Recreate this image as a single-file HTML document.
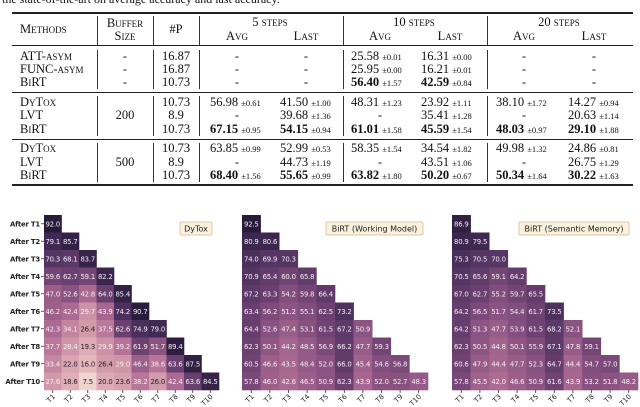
<!DOCTYPE html>
<html><head><meta charset="utf-8">
<style>
html,body{margin:0;padding:0;background:#fff;}
body{width:640px;height:407px;position:relative;overflow:hidden;font-family:"Liberation Serif",serif;color:#111;}
.t{position:absolute;font-size:12.5px;white-space:nowrap;line-height:13px;}
.sc{font-variant:small-caps;}
.c{transform:translateX(-50%);}
.r{transform:translateX(-100%);}
.pm{font-size:8.5px;}
.hl{position:absolute;left:12px;width:621px;background:#222;}
.vl{position:absolute;width:1px;background:#333;}
</style></head>
<body>
<div class="t" style="left:2px;top:-7px;font-size:12px">the state-of-the-art on average accuracy and last accuracy.</div>
<div id="table"></div>
<svg id="hm" width="640" height="407" style="position:absolute;left:0;top:0"></svg>
<script>
// ---------- table ----------
const tbl=document.getElementById('table');
function add(html,cls,x,y,name){const d=document.createElement('div');d.className='t '+cls;d.style.left=x+'px';d.style.top=y+'px';d.innerHTML=html;


tbl.appendChild(d);}
function line(cls,x,y,w,h,name){const d=document.createElement('div');d.className=cls;d.style.left=x+'px';d.style.top=y+'px';if(w)d.style.width=w+'px';d.style.height=h+'px';


tbl.appendChild(d);}
line('hl',12,12,621,2,'table-top-rule');
line('hl',12,45,621,1,'header-rule');
line('hl',12,92,621,1,'group-rule');
line('hl',12,139,621,1,'group-rule');
line('hl',12,184,621,2,'table-bottom-rule');
[97,153,199,343,487].forEach(x=>{
 [[16,45],[50,89],[96,136],[143,182]].forEach(([a,b])=>line('vl',x,a,0,b-a,'column-rule'));
});
add('Methods','sc',20,23,'header-methods');
add('Buffer','sc c',125,17,'header-buffer');
add('Size','sc c',125,30,'header-size');
add('#P','c',176,23,'header-params');
add('5 steps','sc c',270,16,'header-5-steps');
add('Avg','sc c',237,30,'header-avg');
add('Last','sc c',306,30,'header-last');
add('10 steps','sc c',414,16,'header-10-steps');
add('Avg','sc c',380,30,'header-avg');
add('Last','sc c',450,30,'header-last');
add('20 steps','sc c',559,16,'header-20-steps');
add('Avg','sc c',524,30,'header-avg');
add('Last','sc c',594,30,'header-last');
const rows=[
 ['ATT-<span class="sc">asym</span>','-','16.87',['-','-','25.58|0.01','16.31|0.00','-','-'],50],
 ['FUNC-<span class="sc">asym</span>','-','16.87',['-','-','25.95|0.00','16.21|0.01','-','-'],63],
 ['B<span class="sc">i</span>RT','-','10.73',['-','-','*56.40|1.57','*42.59|0.84','-','-'],76],
 ['D<span class="sc">y</span>T<span class="sc">ox</span>','','10.73',['56.98|0.61','41.50|1.00','48.31|1.23','23.92|1.11','38.10|1.72','14.27|0.94'],96],
 ['LVT','200','8.9',['-','39.68|1.36','-','35.41|1.28','-','20.63|1.14'],109],
 ['B<span class="sc">i</span>RT','','10.73',['*67.15|0.95','*54.15|0.94','*61.01|1.58','*45.59|1.54','*48.03|0.97','*29.10|1.88'],123],
 ['D<span class="sc">y</span>T<span class="sc">ox</span>','','10.73',['63.85|0.99','52.99|0.53','58.35|1.54','34.54|1.82','49.98|1.32','24.86|0.81'],142],
 ['LVT','500','8.9',['-','44.73|1.19','-','43.51|1.06','-','26.75|1.29'],156],
 ['B<span class="sc">i</span>RT','','10.73',['*68.40|1.56','*55.65|0.99','*63.82|1.80','*50.20|0.67','*50.34|1.64','*30.22|1.63'],169]
];
const valX=[210,280,351,421,496,568], dashX=[237,306,380,450,524,594];
rows.forEach(r=>{
 const y=r[4];
 add(r[0],'',20,y,'method-name');
 if(r[1])add(r[1],'c',125,y,'buffer-size');
 add(r[2],'c',176,y,'param-count');
 r[3].forEach((v,i)=>{
  if(v==='-'){add('-','c',dashX[i],y,'empty-cell');return;}
  let b=v[0]==='*';if(b)v=v.slice(1);
  const [m,s]=v.split('|');
  add((b?'<b>'+m+'</b>':m)+' <span class="pm">±'+s+'</span>','',valX[i],y,'accuracy-value');
 });
});
// ---------- heatmaps ----------
const rowLabels=['After T1','After T2','After T3','After T4','After T5','After T6','After T7','After T8','After T9','After T10'];
const colLabels=['T1','T2','T3','T4','T5','T6','T7','T8','T9','T10'];
const dytox=[[92.0],[79.1,85.7],[70.3,68.1,83.7],[59.6,62.7,59.1,82.2],[47.0,52.6,42.8,64.0,85.4],[46.2,42.4,29.7,43.9,74.2,90.7],[42.3,34.1,26.4,37.5,62.6,74.9,79.0],[37.7,28.4,19.3,29.9,39.2,61.9,51.7,89.4],[33.4,22.0,16.0,26.4,29.0,46.4,38.6,63.6,87.5],[27.6,18.6,7.5,20.0,23.6,38.2,26.0,42.4,63.6,84.5]];
const birtWorking=[[92.5],[80.9,80.6],[74.0,69.9,70.3],[70.9,65.4,60.0,65.8],[67.2,63.3,54.2,59.8,66.4],[63.4,56.2,51.2,55.1,62.5,73.2],[64.4,52.6,47.4,53.1,61.5,67.2,50.9],[62.3,50.1,44.2,48.5,56.9,66.2,47.7,59.3],[60.5,46.6,43.5,48.4,52.0,66.0,45.4,54.6,56.8],[57.8,46.0,42.6,46.5,50.9,62.3,43.9,52.0,52.7,48.3]];
const birtSemantic=[[86.9],[80.9,79.5],[75.3,70.5,70.0],[70.5,65.6,59.1,64.2],[67.0,62.7,55.2,59.7,65.5],[64.2,56.5,51.7,54.4,61.7,73.5],[64.2,51.3,47.7,53.9,61.5,68.2,52.1],[62.3,50.5,44.8,50.1,55.9,67.1,47.8,59.1],[60.6,47.9,44.4,47.7,52.3,64.7,44.4,54.7,57.0],[57.8,45.5,42.0,46.6,50.9,61.6,43.9,53.2,51.8,48.2]];
const stops=[[0,[245,228,222]],[8,[237,212,206]],[20,[220,170,180]],[30,[204,146,166]],[40,[180,112,150]],[50,[143,86,132]],[60,[114,68,116]],[70,[86,54,100]],[80,[62,40,80]],[92,[40,27,58]]];
function color(v){for(let i=1;i<stops.length;i++){if(v<=stops[i][0]||i===stops.length-1){const[a,ca]=stops[i-1],[b,cb]=stops[i];let t=Math.min(1,Math.max(0,(v-a)/(b-a)));return 'rgb('+ca.map((c,k)=>Math.round(c+(cb[k]-c)*t)).join(',')+')';}}}
const svg=document.getElementById('hm');const NS='http://www.w3.org/2000/svg';
function el(tag,attrs,name,txt){const e=document.createElementNS(NS,tag);for(const k in attrs)e.setAttribute(k,attrs[k]);


if(txt!==undefined)e.textContent=txt;svg.appendChild(e);return e;}
function heatmap(data,x0,cw,title,lx,lw,showRows){
 const y0=215,rh=17.5;
 data.forEach((row,i)=>row.forEach((v,j)=>{
  const x=x0+j*cw,y=y0+i*rh;
  el('rect',{x:x,y:y,width:cw+0.3,height:rh+0.3,fill:color(v)},'heatmap-cell');
  el('text',{x:x+cw/2,y:y+rh/2+2.5,'text-anchor':'middle','font-size':6.9,'letter-spacing':'-0.2','font-family':'DejaVu Sans, sans-serif',fill:v<27?'#2a2230':'#f4eef2'},'cell-value',v.toFixed(1));
 }));
 if(showRows)rowLabels.forEach((l,i)=>{
  const y=y0+i*rh+rh/2;
  el('line',{x1:x0-3,x2:x0,y1:y,y2:y,stroke:'#333','stroke-width':0.8},'y-tick');
  el('text',{x:x0-4,y:y+2.5,'text-anchor':'end','font-size':6.9,'font-weight':'bold','letter-spacing':'-0.2','font-family':'DejaVu Sans, sans-serif',fill:'#222'},'y-tick-label',l);
 });
 colLabels.forEach((l,j)=>{
  const x=x0+j*cw+cw/2,y=y0+10*rh;
  el('line',{x1:x,x2:x,y1:y,y2:y+3,stroke:'#333','stroke-width':0.8},'x-tick');
  el('text',{x:x+3,y:y+7,'text-anchor':'end','font-size':6.9,'font-family':'DejaVu Sans, sans-serif',fill:'#222',transform:'rotate(-45 '+(x+3)+' '+(y+7)+')'},'x-tick-label',l);
 });
 el('rect',{x:lx,y:222,width:lw,height:13,fill:'#fbf1dc',stroke:'#d9c9a9','stroke-width':1,rx:1.5},'legend-box');
 el('text',{x:lx+lw/2,y:231.5,'text-anchor':'middle','font-size':8,'font-family':'DejaVu Sans, sans-serif',fill:'#222'},'legend-title',title);
}
heatmap(dytox,44,17.5,'DyTox',180,32,true);
heatmap(birtWorking,242,18.6,'BiRT (Working Model)',326,97,false);
heatmap(birtSemantic,452,18.6,'BiRT (Semantic Memory)',519,110,false);
</script>
</body></html>
